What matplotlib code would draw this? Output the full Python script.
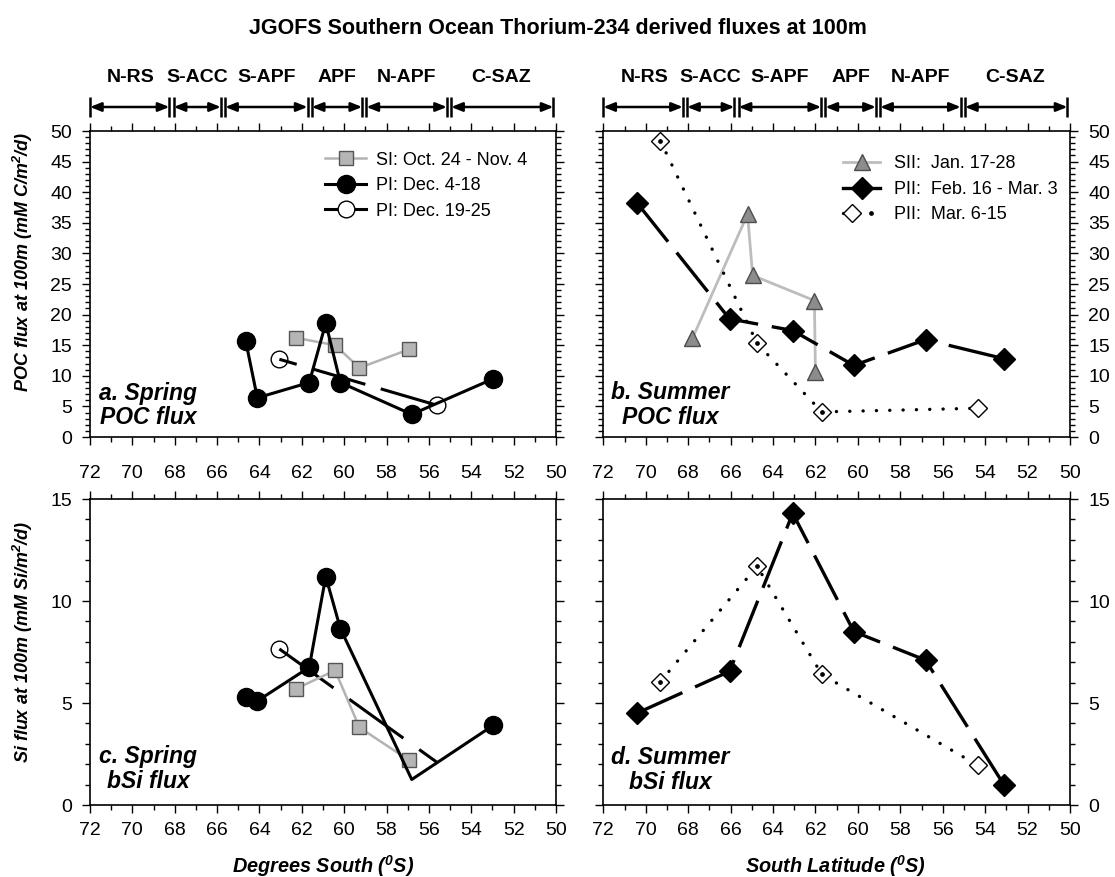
import matplotlib
matplotlib.use('Agg')
import matplotlib.pyplot as plt
from matplotlib.ticker import MultipleLocator
from matplotlib.transforms import blended_transform_factory
from matplotlib.legend_handler import HandlerTuple
from matplotlib.lines import Line2D

plt.rcParams['font.family'] = ['Liberation Sans', 'DejaVu Sans']
plt.rcParams['mathtext.fontset'] = 'custom'
plt.rcParams['mathtext.rm'] = 'Liberation Sans:bold:italic'
plt.rcParams['mathtext.it'] = 'Liberation Sans:bold:italic'
plt.rcParams['mathtext.bf'] = 'Liberation Sans:bold:italic'
plt.rcParams['lines.scale_dashes'] = False

# ---------------- data ----------------
fronts = ['N-RS', 'S-ACC', 'S-APF', 'APF', 'N-APF', 'C-SAZ']
front_bounds = [72.0, 68.15, 65.72, 61.63, 59.05, 55.05, 50.12]

si_lat = [62.27, 60.43, 59.28, 56.95]
si_poc = [16.2, 15.0, 11.3, 14.3]
si_bsi = [5.7, 6.6, 3.8, 2.2]

pi1_lat = [64.65, 64.1, 61.65, 60.87, 60.18, 56.81, 52.97]
pi1_poc = [15.7, 6.4, 8.9, 18.6, 8.9, 3.7, 9.5]
pi1_bsi = [5.3, 5.1, 6.75, 11.2, 8.65, 1.25, 3.9]

pi2_lat = [63.06, 55.63]
pi2_poc = [12.7, 5.2]
pi2_bsi = [7.65, 2.1]

sii_lat = [67.8, 65.2, 64.96, 62.05, 62.0]
sii_poc = [16.1, 36.4, 26.4, 22.3, 10.6]

pii1_lat = [70.42, 66.05, 63.07, 60.19, 56.81, 53.12]
pii1_poc = [38.3, 19.3, 17.4, 11.7, 15.9, 12.8]
pii1_bsi = [4.5, 6.55, 14.3, 8.5, 7.1, 1.0]

pii2_lat = [69.31, 64.75, 61.7, 54.36]
pii2_poc = [48.4, 15.3, 4.1, 4.7]
pii2_bsi = [6.05, 11.7, 6.4, 1.95]

title = 'JGOFS Southern Ocean Thorium-234 derived fluxes at 100m'

# ---------------- figure ----------------
W, H = 1115, 877
fig = plt.figure(figsize=(W / 100, H / 100), dpi=100)


def add_ax(x0, x1, ytop, ybot):
    return fig.add_axes([x0 / W, 1 - ybot / H, (x1 - x0) / W, (ybot - ytop) / H])


ax_a = add_ax(90, 556, 131, 437)
ax_b = add_ax(603.3, 1070, 131, 437)
ax_c = add_ax(90, 556, 499, 805)
ax_d = add_ax(603.3, 1070, 499, 805)


def setup(ax, ymax, ymajor, left=True, xtop=False, xbottom=False):
    ax.set_xlim(72, 50)
    ax.set_ylim(0, ymax)
    ax.xaxis.set_major_locator(MultipleLocator(2))
    ax.xaxis.set_minor_locator(MultipleLocator(1))
    ax.yaxis.set_major_locator(MultipleLocator(ymajor))
    ax.yaxis.set_minor_locator(MultipleLocator(1))
    ax.tick_params(which='both', direction='out', top=True, bottom=True,
                   left=True, right=True, width=1.0, labelsize=14, pad=6)
    ax.tick_params(which='major', length=6)
    ax.tick_params(which='minor', length=3.5)
    ax.tick_params(axis='x', labeltop=xtop, labelbottom=xbottom)
    ax.tick_params(axis='y', labelleft=left, labelright=not left, pad=7)
    for s in ax.spines.values():
        s.set_linewidth(1.2)


setup(ax_a, 50, 5, left=True)
setup(ax_b, 50, 5, left=False)
setup(ax_c, 15, 5, left=True, xtop=True, xbottom=True)
setup(ax_d, 15, 5, left=False, xtop=True, xbottom=True)


def draw_fronts(ax):
    tr = blended_transform_factory(ax.transData, fig.transFigure)
    y_arrow = 1 - 107 / H
    y_lo, y_hi = 1 - 117 / H, 1 - 97 / H
    y_txt = 1 - 78 / H
    g = 0.1
    n = len(fronts)
    for i, name in enumerate(fronts):
        x0, x1 = front_bounds[i], front_bounds[i + 1]
        a = x0 - (g if i > 0 else 0)
        b = x1 + (g if i < n - 1 else 0)
        for xx in (a, b):
            ax.plot([xx, xx], [y_lo, y_hi], transform=tr, color='black',
                    lw=1.8, clip_on=False, solid_capstyle='butt')
        ax.annotate('', xy=(b, y_arrow), xytext=(a, y_arrow), xycoords=tr,
                    textcoords=tr,
                    arrowprops=dict(arrowstyle='<|-|>,head_length=0.55,head_width=0.22',
                                    color='black', lw=1.8, shrinkA=0, shrinkB=0,
                                    mutation_scale=12))
        ax.text((x0 + x1) / 2, y_txt, name, transform=tr, ha='center',
                va='center', fontsize=14, fontweight='bold')


draw_fronts(ax_a)
draw_fronts(ax_b)

# styles
SI = dict(color='#b3b3b3', lw=1.8, marker='s', ms=10, mfc='#b5b5b5',
          mec='#555555', mew=1.0)
PI1 = dict(color='black', lw=2.2, marker='o', ms=13, mfc='black', mec='black')
PI2 = dict(color='black', lw=2.2, marker='o', ms=12, mfc='none', mec='black', mew=1.0)
SII = dict(color='#bdbdbd', lw=2.0, marker='^', ms=12, mfc='#8c8c8c',
           mec='#4d4d4d', mew=1.0)
PII1 = dict(color='black', lw=2.4, marker='D', ms=11.2, mfc='black', mec='black')
PII2 = dict(color='black', lw=2.4, marker='D', ms=9.3, mfc='white', mec='black',
            mew=1.0, dash_capstyle='round')
DOT = dict(color='black', lw=0, marker='o', ms=2.4, mfc='black', mec='black')

# ---------------- panel a ----------------
ax_a.plot(pi2_lat, pi2_poc, ls=(27, (40, 11.5)), zorder=2, **PI2)
ax_a.plot(si_lat, si_poc, zorder=3, **SI)
ax_a.plot(pi1_lat, pi1_poc, zorder=4, **PI1)

h_si = Line2D([], [], **SI)
h_pi1 = Line2D([], [], **PI1)
h_pi2 = Line2D([], [], **{**PI2, 'mfc': 'white'})
ax_a.legend([h_si, h_pi1, h_pi2],
            ['SI: Oct. 24 - Nov. 4', 'PI: Dec. 4-18', 'PI: Dec. 19-25'],
            loc='upper left', bbox_to_anchor=(0.504, 0.932), frameon=False,
            fontsize=13, handlelength=2.3, handletextpad=0.55,
            labelspacing=0.47, borderpad=0, borderaxespad=0, numpoints=1)
ax_a.text(0.1245, 0.103, 'a. Spring\nPOC flux', transform=ax_a.transAxes,
          ha='center', va='center', fontsize=16.5, fontweight='bold',
          fontstyle='italic', multialignment='center', linespacing=1.1)

# ---------------- panel b ----------------
ax_b.plot(sii_lat, sii_poc, zorder=2, **SII)
ax_b.plot(pii1_lat, pii1_poc, ls=(0, (36, 10)), zorder=3, **PII1)
ax_b.plot(pii2_lat, pii2_poc, ls=(0, (0.1, 9.5)), zorder=4, **PII2)
ax_b.plot(pii2_lat, pii2_poc, markevery=[0, 1, 2], zorder=5, **DOT)

h_sii = Line2D([], [], **SII)
h_pii1 = Line2D([], [], **PII1)
h_pii2 = Line2D([], [], ls=(0, (0.1, 9.5)), **PII2)
h_dot = Line2D([], [], **DOT)
ax_b.legend([h_sii, h_pii1, (h_pii2, h_dot)],
            ['SII:  Jan. 17-28', 'PII:  Feb. 16 - Mar. 3', 'PII:  Mar. 6-15'],
            handler_map={tuple: HandlerTuple(ndivide=None)},
            loc='upper left', bbox_to_anchor=(0.514, 0.92), frameon=False,
            fontsize=13, handlelength=2.05, handletextpad=0.75,
            labelspacing=0.47, borderpad=0, borderaxespad=0, numpoints=1)
ax_b.text(0.144, 0.105, 'b. Summer\nPOC flux', transform=ax_b.transAxes,
          ha='center', va='center', fontsize=16.5, fontweight='bold',
          fontstyle='italic', multialignment='center', linespacing=1.1)

# ---------------- panel c ----------------
ax_c.plot(pi2_lat, pi2_bsi, ls=(0, (48, 14)), markevery=[0], zorder=2, **PI2)
ax_c.plot(si_lat, si_bsi, zorder=3, **SI)
ax_c.plot(pi1_lat, pi1_bsi, markevery=[0, 1, 2, 3, 4, 6], zorder=4, **PI1)
ax_c.text(0.1245, 0.118, 'c. Spring\nbSi flux', transform=ax_c.transAxes,
          ha='center', va='center', fontsize=16.5, fontweight='bold',
          fontstyle='italic', multialignment='center', linespacing=1.1)

# ---------------- panel d ----------------
ax_d.plot(pii1_lat, pii1_bsi, ls=(0, (36, 10)), zorder=3, **PII1)
ax_d.plot(pii2_lat, pii2_bsi, ls=(0, (0.1, 9.5)), zorder=4, **PII2)
ax_d.plot(pii2_lat, pii2_bsi, markevery=[0, 1, 2], zorder=5, **DOT)
ax_d.text(0.144, 0.114, 'd. Summer\nbSi flux', transform=ax_d.transAxes,
          ha='center', va='center', fontsize=16.5, fontweight='bold',
          fontstyle='italic', multialignment='center', linespacing=1.1)

# ---------------- labels ----------------
fig.text(0.5, 1 - 29 / H, title, ha='center', va='center', fontsize=15.5,
         fontweight='bold')
lab = dict(fontsize=13, fontweight='bold', fontstyle='italic', ha='center',
           va='center', rotation=90)
fig.text(23 / W, 1 - 262 / H, r'POC flux at 100m (mM C/m$^2$/d)', **lab)
fig.text(23 / W, 1 - 642 / H, r'Si flux at 100m (mM Si/m$^2$/d)', **lab)
xl = dict(fontsize=14.3, fontweight='bold', fontstyle='italic', ha='center',
          va='center')
fig.text(323 / W, 1 - 866 / H, r'Degrees South ($^0$S)', **xl)
fig.text(836 / W, 1 - 866 / H, r'South Latitude ($^0$S)', **xl)

fig.savefig('out.png', dpi=100)
